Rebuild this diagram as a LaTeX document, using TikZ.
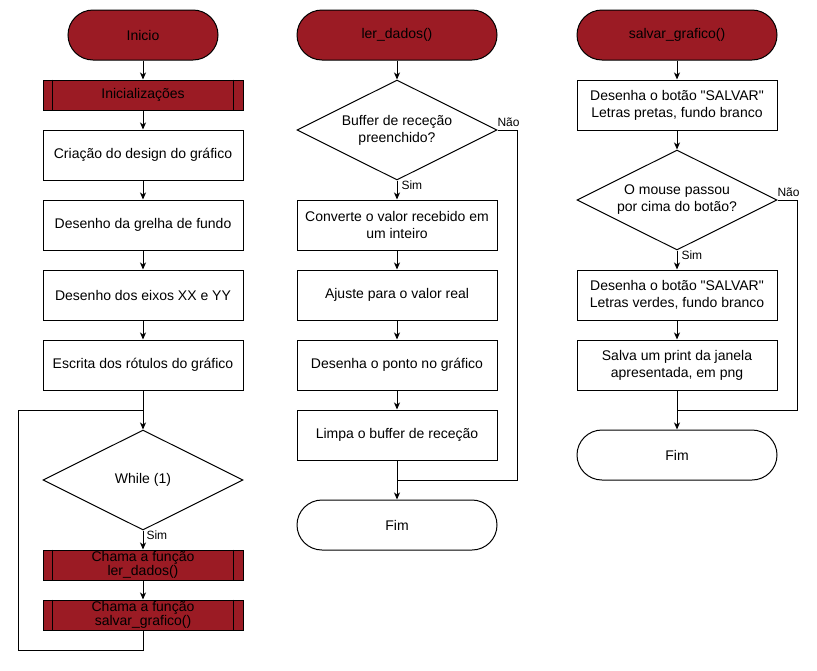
\documentclass[tikz,border=0pt]{standalone}
\usepackage{fontspec}
\setmainfont{Liberation Sans}
\usetikzlibrary{shapes.geometric,arrows.meta,calc}
\definecolor{dred}{RGB}{155,27,36}
\begin{document}
\begin{tikzpicture}[x=1pt,y=-1pt,line width=1pt,
  every node/.style={font=\fontsize{14}{17}\selectfont,align=center,inner sep=0pt},
  proc/.style={draw,minimum width=200pt,minimum height=50pt},
  sub/.style={draw,fill=dred,minimum width=200pt,minimum height=30pt,font=\fontsize{14}{14}\selectfont},
  term/.style={draw,fill=dred,rounded corners=25pt,minimum width=200pt,minimum height=50pt},
  fimterm/.style={draw,rounded corners=25pt,minimum width=200pt,minimum height=50pt},
  dec/.style={draw,diamond,aspect=2,minimum width=200pt,minimum height=100pt},
  lbl/.style={font=\fontsize{12}{13}\selectfont,anchor=west},
  arr/.style={-{Stealth[length=7pt,width=6pt,inset=2pt]}}]
\useasboundingbox (0,0) rectangle (817,670);
% column 1
\node[term,minimum width=150pt] (inicio) at (143,35) {Inicio};
\node[sub] (init) at (143,95) {Inicializações};
\node[proc] (b1) at (143,155) {Criação do design do gráfico};
\node[proc] (b2) at (143,225) {Desenho da grelha de fundo};
\node[proc] (b3) at (143,295) {Desenho dos eixos XX e YY};
\node[proc] (b4) at (143,365) {Escrita dos rótulos do gráfico};
\node[dec] (w) at (143,480) {While (1)};
\node[sub] (c1) at (143,565) {Chama a função\\ler\_dados()};
\node[sub] (c2) at (143,615) {Chama a função\\salvar\_grafico()};
\foreach \n in {init,c1,c2}{
  \draw ([xshift=10pt]\n.north west) -- ([xshift=10pt]\n.south west);
  \draw ([xshift=-10pt]\n.north east) -- ([xshift=-10pt]\n.south east);
}
\coordinate (l1) at (143,650);
\coordinate (l2) at (18,650);
\coordinate (l3) at (18,410);
\coordinate (l4) at (143,410);
\draw[arr] (inicio) -- (init);
\draw[arr] (init) -- (b1);
\draw[arr] (b1) -- (b2);
\draw[arr] (b2) -- (b3);
\draw[arr] (b3) -- (b4);
\draw[arr] (b4) -- (w);
\draw[arr] (w) -- (c1);
\draw[arr] (c1) -- (c2);
\draw (c2.south) -- (l1) -- (l2) -- (l3) -- (l4);
\node[lbl] at (146,535) {Sim};
% column 2
\node[term] (ld) at (397,35) {ler\_dados()};
\node[dec] (d2) at (397,130) {Buffer de receção\\preenchido?};
\node[proc] (e1) at (397,225) {Converte o valor recebido em\\um inteiro};
\node[proc] (e2) at (397,295) {Ajuste para o valor real};
\node[proc] (e3) at (397,365) {Desenha o ponto no gráfico};
\node[proc] (e4) at (397,435) {Limpa o buffer de receção};
\node[fimterm] (fim2) at (397,525) {Fim};
\coordinate (n1) at (517,130);
\coordinate (n2) at (517,480);
\coordinate (n3) at (397,480);
\draw[arr] (ld) -- (d2);
\draw[arr] (d2) -- (e1);
\draw[arr] (e1) -- (e2);
\draw[arr] (e2) -- (e3);
\draw[arr] (e3) -- (e4);
\draw[arr] (e4) -- (fim2);
\draw (d2.east) -- (n1) -- (n2) -- (n3);
\node[lbl] at (401,185) {Sim};
\node[lbl] at (497,122) {Não};
% column 3
\node[term] (sg) at (677,35) {salvar\_grafico()};
\node[proc] (f1) at (677,105) {Desenha o botão \textquotedbl SALVAR\textquotedbl\\Letras pretas, fundo branco};
\node[dec] (d3) at (677,200) {O mouse passou\\por cima do botão?};
\node[proc] (f2) at (677,295) {Desenha o botão \textquotedbl SALVAR\textquotedbl\\Letras verdes, fundo branco};
\node[proc] (f3) at (677,365) {Salva um print da janela\\apresentada, em png};
\node[fimterm] (fim3) at (677,455) {Fim};
\coordinate (m1) at (797,200);
\coordinate (m2) at (797,410);
\coordinate (m3) at (677,410);
\draw[arr] (sg) -- (f1);
\draw[arr] (f1) -- (d3);
\draw[arr] (d3) -- (f2);
\draw[arr] (f2) -- (f3);
\draw[arr] (f3) -- (fim3);
\draw (d3.east) -- (m1) -- (m2) -- (m3);
\node[lbl] at (681,255) {Sim};
\node[lbl] at (777,192) {Não};
\end{tikzpicture}
\end{document}
